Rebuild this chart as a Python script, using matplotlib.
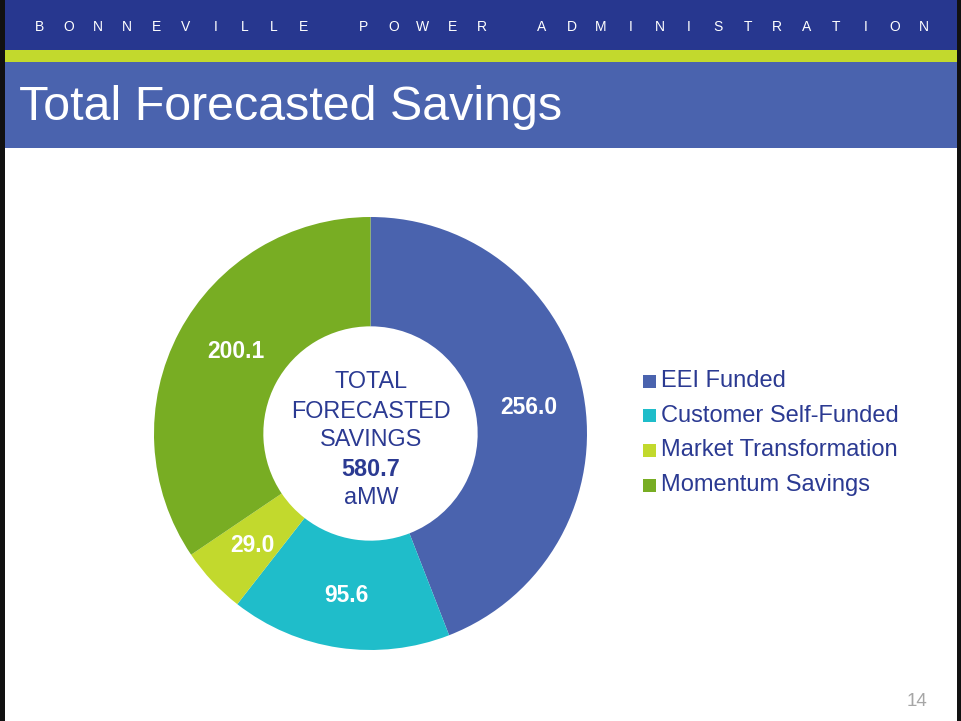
import numpy as np
import matplotlib
matplotlib.use('Agg')
import matplotlib.pyplot as plt
from matplotlib.patches import Rectangle

plt.rcParams['font.family'] = ['Liberation Sans', 'DejaVu Sans']

# data
labels = ['EEI Funded', 'Customer Self-Funded', 'Market Transformation', 'Momentum Savings']
values = [256.0, 95.6, 29.0, 200.1]
colors = ['#4A63AE', '#1FBDCA', '#C2D92D', '#78AD23']
total = 580.7
header = 'BONNEVILLE POWER ADMINISTRATION'
title = 'Total Forecasted Savings'
page = '14'

navy = '#27378F'
textnavy = '#2B3A92'

W, H = 961, 721
fig = plt.figure(figsize=(W/100, H/100), dpi=100)
fig.patch.set_facecolor('white')

# background bands (pixel coords, y from top)
bg = fig.add_axes([0, 0, 1, 1])
bg.set_xlim(0, W)
bg.set_ylim(H, 0)
bg.axis('off')
bg.add_patch(Rectangle((0, 0), W, 50, color=navy, lw=0))
bg.add_patch(Rectangle((0, 50), W, 12, color='#C2D92D', lw=0))
bg.add_patch(Rectangle((0, 62), W, 86, color='#4A63AE', lw=0))
bg.add_patch(Rectangle((0, 0), 5, H, color='#111111', lw=0))
bg.add_patch(Rectangle((W-4, 0), 4, H, color='#111111', lw=0))

# donut
cx, cy, r = 370.5, 433.5, 216.5
ax = fig.add_axes([(cx - r)/W, (H - cy - r)/H, 2*r/W, 2*r/H])
wedges, _ = ax.pie(values, colors=colors, startangle=90, counterclock=False,
                   radius=1, wedgeprops=dict(width=0.505, linewidth=0))
ax.set_xlim(-1, 1)
ax.set_ylim(-1, 1)
ax.set_aspect('equal')
ax.axis('off')

# overlay for all text, drawn above the donut
top = fig.add_axes([0, 0, 1, 1])
top.set_xlim(0, W)
top.set_ylim(H, 0)
top.axis('off')
top.patch.set_alpha(0)

# spaced header letters
x = 39
for ch in header:
    if ch == ' ':
        x += 31
        continue
    top.text(x, 27, ch, color='white', fontsize=10, ha='center', va='center')
    x += 29.4

top.text(19, 108, title, color='white', fontsize=34.8, ha='left', va='center')
top.text(917, 702, page, color='#A6A6A6', fontsize=13.5, ha='center', va='center')

# value labels
lab_pos = [(529, 407), (346, 595), (252, 545), (236, 352)]
for (px, py), v in zip(lab_pos, values):
    top.text(px, py, f'{v:.1f}', color='white', fontsize=16.5, fontweight='bold',
             ha='center', va='center')

# center text
center_lines = ['TOTAL', 'FORECASTED', 'SAVINGS']
for i, s in enumerate(center_lines):
    top.text(371, 382 + i*29, s, color=textnavy, fontsize=16.8, ha='center', va='center')
top.text(371, 469, f'{total:.1f}', color=textnavy, fontsize=16.8, fontweight='bold',
         ha='center', va='center')
top.text(371, 497, 'aMW', color=textnavy, fontsize=16.8, ha='center', va='center')

# legend
for i, (lab, c) in enumerate(zip(labels, colors)):
    y = 381 + i*34.7
    top.add_patch(Rectangle((643, y - 6.5), 13, 13, color=c, lw=0))
    top.text(661, y, lab, color=textnavy, fontsize=17, ha='left', va='center')

fig.savefig('out.png', dpi=100)
